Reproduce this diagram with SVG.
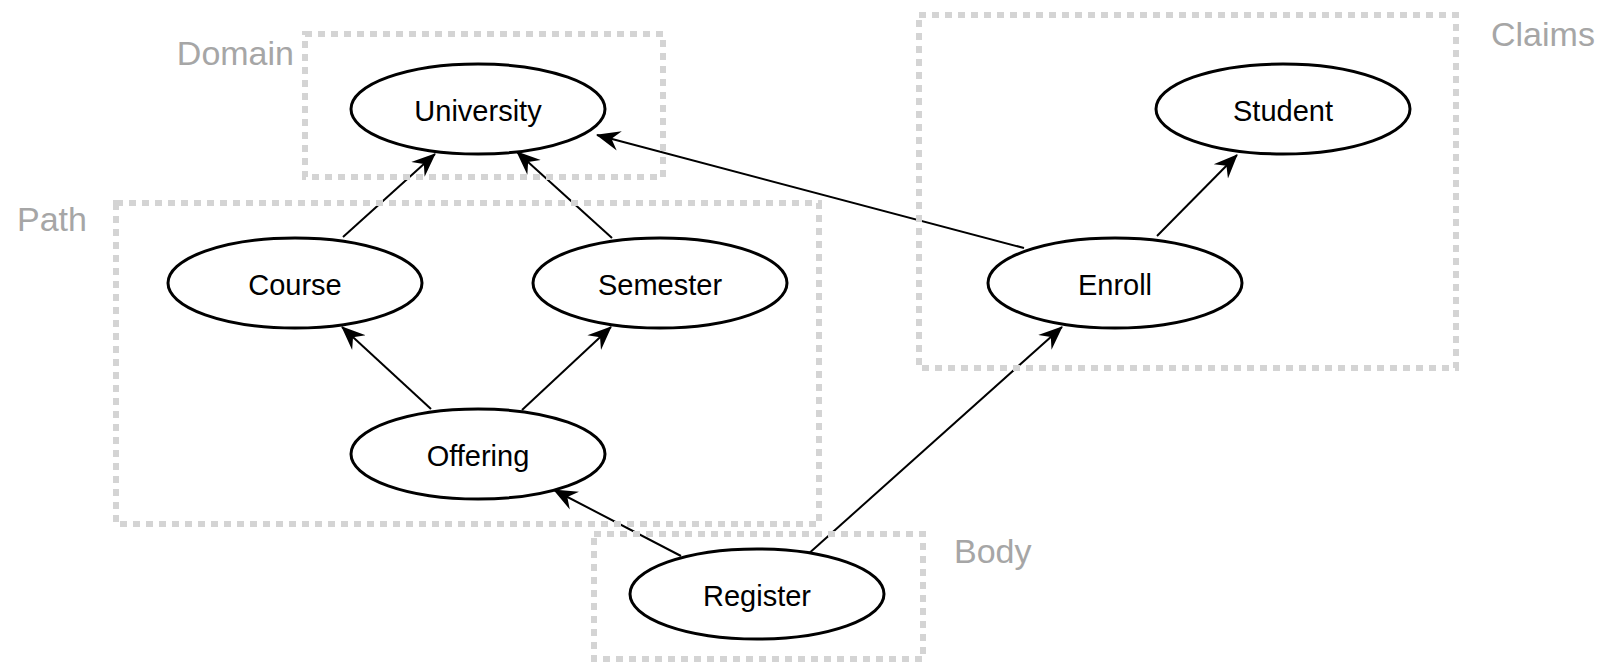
<svg xmlns="http://www.w3.org/2000/svg" width="1605" height="663" viewBox="0 0 1605 663">
<defs>
<marker id="arr" viewBox="0 0 24 22" markerWidth="24" markerHeight="22" refX="23" refY="11" orient="auto" markerUnits="userSpaceOnUse">
<path d="M0,1 L24,11 L0,21 L8,11 Z" fill="#000"/>
</marker>
</defs>
<style>
.edge{stroke:#000;stroke-width:2;fill:none;marker-end:url(#arr)}
.box{fill:none;stroke:#d4d4d4;stroke-width:6;stroke-dasharray:7,6}
.glabel{font-family:"Liberation Sans",Arial,sans-serif;font-size:34px;fill:#a6a6a6}
.node ellipse{fill:#fff;stroke:#000;stroke-width:3}
.node text{font-family:"Liberation Sans",Arial,sans-serif;font-size:29px;fill:#000;text-anchor:middle}
</style>
<rect width="1605" height="663" fill="#fff"/>
<g id="connectors">
<line class="edge" x1="343" y1="237" x2="435" y2="154"/>
<line class="edge" x1="612" y1="238" x2="517" y2="152"/>
<line class="edge" x1="1024" y1="248" x2="597" y2="135"/>
<line class="edge" x1="1157" y1="236" x2="1237" y2="155"/>
<line class="edge" x1="431" y1="409" x2="342" y2="327"/>
<line class="edge" x1="522" y1="410" x2="611" y2="327"/>
<line class="edge" x1="681" y1="556" x2="554" y2="490"/>
<line class="edge" x1="806" y1="556" x2="1062" y2="327"/>
</g>
<g id="cluster-domain">
<rect class="box" x="305" y="34" width="358" height="143"/>
<text class="glabel" x="294" y="65" text-anchor="end">Domain</text>
</g>
<g id="cluster-path">
<rect class="box" x="116" y="203" width="703" height="321"/>
<text class="glabel" x="17" y="231">Path</text>
</g>
<g id="cluster-claims">
<rect class="box" x="919" y="15" width="537" height="353"/>
<text class="glabel" x="1491" y="46">Claims</text>
</g>
<g id="cluster-body">
<rect class="box" x="594" y="534" width="329" height="125"/>
<text class="glabel" x="954" y="563">Body</text>
</g>
<g id="node-university" class="node">
<ellipse cx="478" cy="109" rx="127" ry="45"/>
<text x="478" y="121">University</text>
</g>
<g id="node-course" class="node">
<ellipse cx="295" cy="283" rx="127" ry="45"/>
<text x="295" y="295">Course</text>
</g>
<g id="node-semester" class="node">
<ellipse cx="660" cy="283" rx="127" ry="45"/>
<text x="660" y="295">Semester</text>
</g>
<g id="node-offering" class="node">
<ellipse cx="478" cy="454" rx="127" ry="45"/>
<text x="478" y="466">Offering</text>
</g>
<g id="node-enroll" class="node">
<ellipse cx="1115" cy="283" rx="127" ry="45"/>
<text x="1115" y="295">Enroll</text>
</g>
<g id="node-student" class="node">
<ellipse cx="1283" cy="109" rx="127" ry="45"/>
<text x="1283" y="121">Student</text>
</g>
<g id="node-register" class="node">
<ellipse cx="757" cy="594" rx="127" ry="45"/>
<text x="757" y="606">Register</text>
</g>
</svg>
